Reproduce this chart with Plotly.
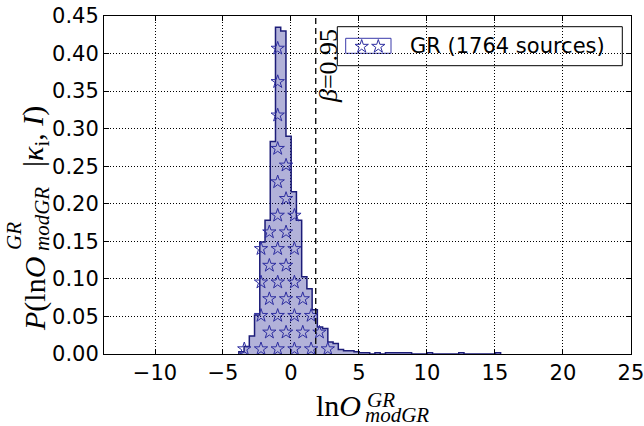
import plotly.graph_objects as go
import numpy as np

# ---------------- data ----------------
N_SOURCES = 1764
bin_start = -3.835
bin_width = 0.385
density = [0.003, 0.010, 0.024, 0.052, 0.149, 0.178, 0.283, 0.435, 0.430, 0.290,
           0.216, 0.178, 0.103, 0.087, 0.059, 0.036, 0.034, 0.016, 0.014, 0.006,
           0.0044, 0.0044, 0.003, 0.0015, 0.0015, 0.0, 0.0015, 0.0, 0.0015, 0.0015,
           0.0015, 0.0015, 0.0015, 0.0, 0.0, 0.0, 0.0015, 0.0, 0.0, 0.0,
           0.0, 0.0, 0.0015, 0.0, 0.0, 0.0, 0.0, 0.0, 0.0, 0.0015]
beta_x = 1.82
beta_label = "<i>β</i>=0.95"
legend_label = f"GR ({N_SOURCES} sources)"
x_ticks = [-10, -5, 0, 5, 10, 15, 20, 25]
y_ticks = [0.00, 0.05, 0.10, 0.15, 0.20, 0.25, 0.30, 0.35, 0.40, 0.45]

# ---------------- layout geometry ----------------
W, H = 644, 426
L, R, T, B = 104, 13, 16, 72
PW, PH = W - L - R, H - T - B
XR = [-13.75, 25.002]
YR = [0.0, 0.45]

def px2dx(px):
    return XR[0] + (px - L) / PW * (XR[1] - XR[0])

def py2dy(py):
    return YR[0] + (T + PH - py) / PH * (YR[1] - YR[0])

def pxp(px):
    return (px - L) / PW

def pyp(py):
    return (T + PH - py) / PH

edges = bin_start + bin_width * np.arange(len(density) + 1)
dens = np.array(density)

# step outline
sx = [edges[0]] + list(edges[:-1]) + [edges[-1], edges[-1]]
sy = [0.0] + list(dens) + [dens[-1], 0.0]

FILL = "rgba(0,0,128,0.30)"
EDGE = "#1c1c78"
STAR = "#2d2da0"

fig = go.Figure()
fig.add_trace(go.Scatter(x=sx, y=sy, mode="lines", line=dict(shape="hv", color=EDGE, width=1.5),
                         fill="tozeroy", fillcolor=FILL, hoverinfo="skip", showlegend=False))

# star hatch (pixel-spaced grid, kept inside the filled steps)
sp = 16.7
hx, hy = [], []
for n in range(0, 22):
    py = 349 - sp * n
    off = 0 if n % 2 == 0 else sp / 2
    for m in range(-20, 40):
        px = 261 + off + sp * m
        if px < L or px > L + PW:
            continue
        xd, yd = px2dx(px), py2dy(py)
        k = int(np.floor((xd - bin_start) / bin_width))
        if 0 <= k < len(dens) and yd <= dens[k] - 2.5 * (YR[1] / PH):
            hx.append(xd)
            hy.append(yd)
fig.add_trace(go.Scatter(x=hx, y=hy, mode="markers",
                         marker=dict(symbol="star-open", size=10, color=STAR, line=dict(width=1, color=STAR)),
                         hoverinfo="skip", showlegend=False))

# legend stars
fig.add_trace(go.Scatter(x=[px2dx(361.7), px2dx(378.3)], y=[py2dy(46.5), py2dy(46.5)], mode="markers",
                         marker=dict(symbol="star-open", size=10, color=STAR, line=dict(width=1, color=STAR)),
                         hoverinfo="skip", showlegend=False))

shapes = [
    dict(type="line", xref="x", yref="paper", x0=beta_x, x1=beta_x, y0=0, y1=1,
         line=dict(color="black", width=1.3, dash="6px,4px"), layer="above"),
    dict(type="rect", xref="paper", yref="paper", x0=pxp(337.3), x1=pxp(622.3), y0=pyp(65.7), y1=pyp(26.7),
         line=dict(color="black", width=1), fillcolor="white", layer="between"),
    dict(type="rect", xref="paper", yref="paper", x0=pxp(345.7), x1=pxp(391), y0=pyp(53.3), y1=pyp(38.3),
         line=dict(color="#3a3aaa", width=1), fillcolor="white", layer="between"),
]

SERIF = "Liberation Serif"
ann = []
def A(text, px, py, size, xanchor="center", angle=0, font=SERIF):
    ann.append(dict(text=text, x=pxp(px), y=pyp(py), xref="paper", yref="paper", showarrow=False,
                    xanchor=xanchor, yanchor="middle", textangle=angle,
                    font=dict(family=font, size=size, color="black")))

# x label
A("ln<i>O</i>", 363, 406, 30, xanchor="right")
A("<i>GR</i>", 365, 400, 21, xanchor="left")
A("<i>modGR</i>", 363, 415, 21, xanchor="left")
# y label (rotated)
A("<i>P</i>(ln<i>O</i>", 35, 294, 30, angle=-90)
A("<i>GR</i>", 14, 236, 21, angle=-90)
A("<i>modGR</i>", 42, 219, 21, angle=-90)
A("|<i>κ</i><sub>i</sub>, <i>I</i>)", 35, 137, 30, angle=-90)
# beta label
A(beta_label, 328, 66, 26, angle=-90)
# legend text
A(legend_label, 408, 46.5, 21, xanchor="left", font="DejaVu Sans")

axis_common = dict(showline=True, linecolor="black", linewidth=1, mirror="ticks", ticks="inside",
                   ticklen=5, tickcolor="black", tickwidth=1, showgrid=True, gridcolor="black",
                   gridwidth=0.8, griddash="1px,2px", zeroline=False, ticklabeloverflow="allow",
                   automargin=False,
                   tickfont=dict(family="DejaVu Sans", size=21, color="black"))

fig.update_layout(
    width=W, height=H, autosize=False,
    margin=dict(l=L, r=R, t=T, b=B),
    plot_bgcolor="white", paper_bgcolor="white",
    xaxis=dict(range=XR, tickmode="array", tickvals=x_ticks, ticktext=[("−" if v < 0 else "") + str(abs(v)) for v in x_ticks], **axis_common),
    yaxis=dict(range=YR, tickmode="array", tickvals=y_ticks, ticktext=[f"{v:.2f}" for v in y_ticks], **axis_common),
    shapes=shapes, annotations=ann, showlegend=False,
)

fig.write_html("out.html")
